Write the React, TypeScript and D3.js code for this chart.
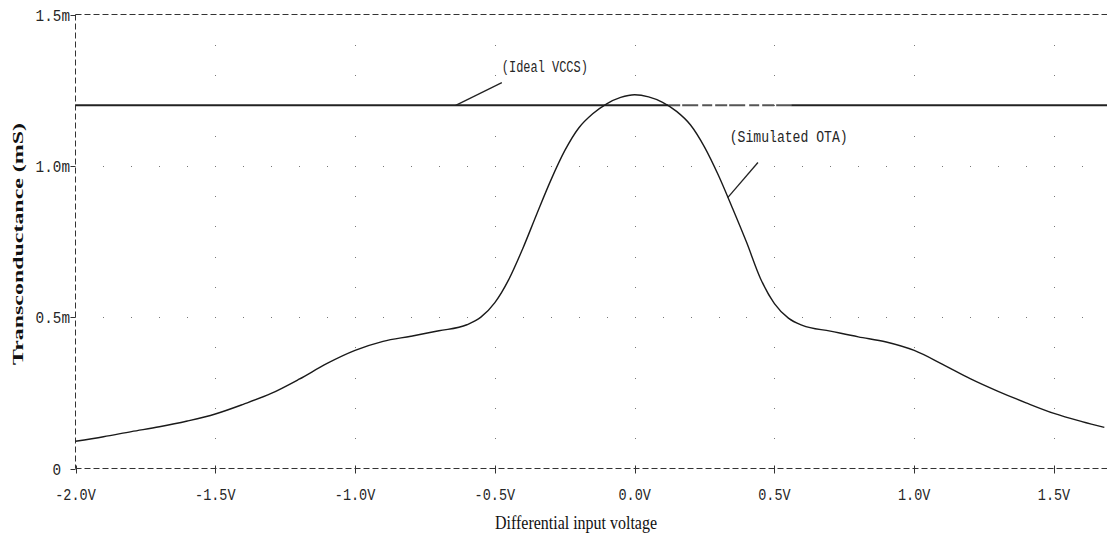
import React, { useEffect, useRef } from 'react';
import * as d3 from 'd3';

// Simulated OTA transconductance (mS) vs differential input voltage (V)
const voltages = [
  -2.0, -1.9, -1.8, -1.7, -1.6, -1.5, -1.4, -1.3, -1.2, -1.1, -1.0, -0.9, -0.8, -0.7, -0.6,
  -0.55, -0.5, -0.45, -0.4, -0.35, -0.3, -0.25, -0.2, -0.15, -0.1, -0.05, 0.0, 0.05, 0.1,
  0.15, 0.2, 0.25, 0.3, 0.35, 0.4, 0.45, 0.5, 0.55, 0.6, 0.7, 0.8, 0.9, 1.0, 1.1, 1.2, 1.3,
  1.4, 1.5, 1.6, 1.68,
];
const otaGm = [
  0.090, 0.105, 0.122, 0.138, 0.157, 0.180, 0.212, 0.248, 0.295, 0.347, 0.390, 0.420, 0.437, 0.455, 0.475,
  0.500, 0.548, 0.625, 0.727, 0.841, 0.952, 1.050, 1.125, 1.172, 1.205, 1.226, 1.235, 1.228, 1.210,
  1.180, 1.135, 1.062, 0.968, 0.860, 0.748, 0.628, 0.545, 0.497, 0.473, 0.454, 0.435, 0.418, 0.390, 0.345, 0.297, 0.255,
  0.217, 0.182, 0.155, 0.136,
];
const idealGm = 1.2;
const idealFadedFrom = 0.12;
const idealFadedTo = 0.56;

const xTicks = [-2.0, -1.5, -1.0, -0.5, 0.0, 0.5, 1.0, 1.5];
const xTickLabels = ['-2.0V', '-1.5V', '-1.0V', '-0.5V', '0.0V', '0.5V', '1.0V', '1.5V'];
const yTicks = [0, 0.5, 1.0, 1.5];
const yTickLabels = ['0', '0.5m', '1.0m', '1.5m'];

export default function App() {
  const svgRef = useRef<SVGSVGElement | null>(null);

  useEffect(() => {
    if (!svgRef.current) return;
    const svg = d3.select(svgRef.current);
    svg.selectAll('*').remove();

    const width = 1107;
    const height = 538;
    const left = 75.5;
    const top = 14.5;
    const bottom = 468.5;
    const right = 1107;

    const x = d3.scaleLinear().domain([-2.0, 1.5]).range([left, 1054]);
    const y = d3.scaleLinear().domain([0, 1.5]).range([bottom, top]);
    const xMax = x.invert(right);

    svg.append('rect').attr('width', width).attr('height', height).attr('fill', '#fff');

    const mono = '"Liberation Mono", "DejaVu Sans Mono", monospace';
    const ink = '#262626';

    // dotted grid: rows at 0.5 / 1.0, columns at every 0.5 V
    const grid = svg.append('g').attr('fill', '#777');
    [0.5, 1.0].forEach(g => {
      d3.range(-19, 17).forEach(i => {
        grid.append('rect').attr('x', Math.round(x(i / 10))).attr('y', Math.round(y(g))).attr('width', 1).attr('height', 1);
      });
    });
    xTicks.slice(1).forEach(v => {
      d3.range(1, 15).forEach(i => {
        grid.append('rect').attr('x', Math.round(x(v))).attr('y', Math.round(y(i / 10))).attr('width', 1).attr('height', 1);
      });
    });

    // dashed frame
    const frame = svg.append('g').attr('stroke', '#333').attr('stroke-width', 1).attr('stroke-dasharray', '6,3').attr('fill', 'none');
    frame.append('line').attr('x1', left).attr('x2', right).attr('y1', top).attr('y2', top);
    frame.append('line').attr('x1', left).attr('x2', right).attr('y1', bottom).attr('y2', bottom);
    frame.append('line').attr('x1', left).attr('x2', left).attr('y1', top).attr('y2', bottom);

    // ticks
    const ticks = svg.append('g').attr('stroke', '#333').attr('stroke-width', 1);
    yTicks.forEach(t => {
      ticks.append('line').attr('x1', left - 5).attr('x2', left).attr('y1', Math.round(y(t)) + 0.5).attr('y2', Math.round(y(t)) + 0.5);
    });
    xTicks.forEach(t => {
      ticks.append('line').attr('x1', Math.round(x(t)) + 0.5).attr('x2', Math.round(x(t)) + 0.5).attr('y1', bottom - 3).attr('y2', bottom + 5);
    });

    // tick labels
    yTicks.forEach((t, i) => {
      const label = yTickLabels[i];
      svg.append('text')
        .attr('x', label.endsWith('m') ? 70 : 61)
        .attr('y', y(t) + 6)
        .attr('text-anchor', 'end')
        .attr('font-family', mono)
        .attr('font-size', 17)
        .attr('fill', ink)
        .attr('textLength', label.length * 8.6)
        .attr('lengthAdjust', 'spacingAndGlyphs')
        .text(label);
    });
    xTicks.forEach((t, i) => {
      const label = xTickLabels[i];
      svg.append('text')
        .attr('x', x(t) - (label.length * 8.1) / 2)
        .attr('y', 500)
        .attr('font-family', mono)
        .attr('font-size', 17)
        .attr('fill', ink)
        .attr('textLength', label.length * 8.1)
        .attr('lengthAdjust', 'spacingAndGlyphs')
        .text(label);
    });

    // axis titles
    svg.append('text')
      .attr('transform', 'translate(23,244) rotate(-90)')
      .attr('text-anchor', 'middle')
      .attr('font-family', '"Liberation Serif", "Times New Roman", serif')
      .attr('font-weight', 'bold')
      .attr('font-size', 15)
      .attr('fill', '#111')
      .attr('textLength', 242)
      .attr('lengthAdjust', 'spacingAndGlyphs')
      .text('Transconductance (mS)');

    svg.append('text')
      .attr('x', 495)
      .attr('y', 529)
      .attr('font-family', '"Liberation Serif", "Times New Roman", serif')
      .attr('font-size', 19)
      .attr('fill', '#111')
      .attr('textLength', 162)
      .attr('lengthAdjust', 'spacingAndGlyphs')
      .text('Differential input voltage');

    // ideal VCCS line (solid, with a faded dashed stretch right of the crossing)
    const idealLine = d3.line<number>().x(v => x(v)).y(() => y(idealGm));
    svg.append('path')
      .attr('d', idealLine([-2.0, idealFadedFrom]))
      .attr('stroke', '#222').attr('stroke-width', 2).attr('fill', 'none');
    svg.append('path')
      .attr('d', idealLine([idealFadedFrom, idealFadedTo]))
      .attr('stroke', '#555').attr('stroke-width', 2).attr('stroke-dasharray', '12,2,16,4,10,3')
      .attr('fill', 'none');
    svg.append('path')
      .attr('d', idealLine([idealFadedTo, xMax]))
      .attr('stroke', '#222').attr('stroke-width', 2).attr('fill', 'none');

    // simulated OTA curve
    const curve = d3.line<number>()
      .x((_, i) => x(voltages[i]))
      .y(d => y(d))
      .curve(d3.curveMonotoneX);
    svg.append('path')
      .attr('d', curve(otaGm))
      .attr('stroke', '#1a1a1a').attr('stroke-width', 1.4).attr('fill', 'none');

    // annotations
    const leader = svg.append('g').attr('stroke', '#222').attr('stroke-width', 1.3);
    leader.append('line').attr('x1', x(-0.64)).attr('y1', y(1.2)).attr('x2', x(-0.475)).attr('y2', y(1.275));
    leader.append('line').attr('x1', x(0.333)).attr('y1', y(0.895)).attr('x2', x(0.441)).attr('y2', y(1.011));

    svg.append('text')
      .attr('x', x(-0.475)).attr('y', y(1.31))
      .attr('font-family', mono).attr('font-size', 16).attr('fill', ink)
      .attr('textLength', 86).attr('lengthAdjust', 'spacingAndGlyphs')
      .text('(Ideal VCCS)');
    svg.append('text')
      .attr('x', x(0.34)).attr('y', y(1.08))
      .attr('font-family', mono).attr('font-size', 16).attr('fill', ink)
      .attr('textLength', 118).attr('lengthAdjust', 'spacingAndGlyphs')
      .text('(Simulated OTA)');
  }, []);

  return (
    <svg
      ref={svgRef}
      width={1107}
      height={538}
      style={{ position: 'absolute', left: 0, top: 0, display: 'block' }}
    />
  );
}
